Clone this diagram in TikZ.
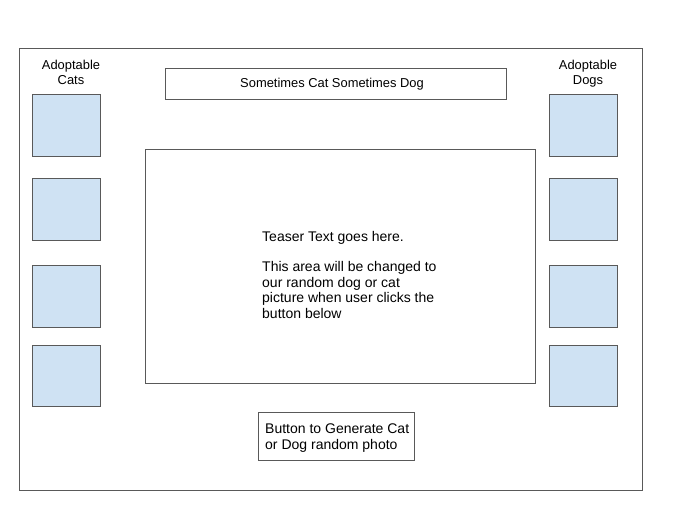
\documentclass[tikz,border=0pt]{standalone}
\usepackage{fontspec}
\setmainfont{Liberation Sans}
\begin{document}
\begin{tikzpicture}[x=1pt,y=-1pt,
  frame/.style={draw=black!65,line width=0.9pt},
  thumb/.style={draw=black!65,line width=0.9pt,fill=thumbblue},
  txt/.style={font=\fontsize{12.9}{15}\selectfont,inner sep=0pt},
  bigtxt/.style={font=\fontsize{14}{15.6}\selectfont,inner sep=0pt}]
\definecolor{thumbblue}{HTML}{CFE2F3}
\useasboundingbox (0,0) rectangle (679,516);
\draw[frame] (19,48) rectangle (642,490);
\draw[frame] (165,68) rectangle (506,99);
\node[txt] (title) at (332,84.5) {Sometimes Cat Sometimes Dog};
\draw[frame] (145,149) rectangle (535,383);
\node[bigtxt,anchor=north west,align=left] (teaser) at (262,231) {Teaser Text goes here.\\[14.5pt]This area will be changed to\\our random dog or cat\\picture when user clicks the\\button below};
\draw[frame] (258,412) rectangle (414,460);
\node[bigtxt,anchor=north west,align=left] (button) at (265,423.5) {Button to Generate Cat\\or Dog random photo};
\node[txt,align=center,anchor=north] (cats) at (71,60) {Adoptable\\Cats};
\node[txt,align=center,anchor=north] (dogs) at (588,60) {Adoptable\\Dogs};
\foreach \ya/\yb in {94/156,178/240,265/327,345/406}{
  \draw[thumb] (32,\ya) rectangle (100,\yb);
  \draw[thumb] (549,\ya) rectangle (617,\yb);
}
\end{tikzpicture}
\end{document}
